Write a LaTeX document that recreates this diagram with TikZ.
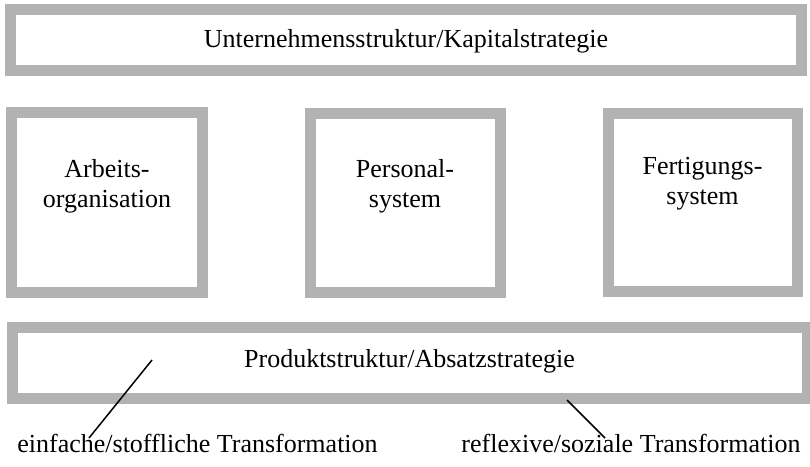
\documentclass[tikz,border=0pt]{standalone}
\usepackage{fontspec}
\setmainfont{Liberation Serif}
\begin{document}
\begin{tikzpicture}[x=1pt,y=-1pt,
  frame/.style={draw=black!30, line width=11pt, fill=white, inner sep=0pt},
  lbl/.style={font=\fontsize{26}{30}\selectfont, align=center, inner sep=0pt},
  conn/.style={line width=1.5pt, black}]
\useasboundingbox (0,0) rectangle (810,466);
% bars
\node[frame, minimum width=791pt, minimum height=60.5pt] (top) at (405.5,39.75) {};
\node[lbl] (toptxt) at (406,41) {Unternehmensstruktur/Kapitalstrategie};
\node[frame, minimum width=795pt, minimum height=71.5pt] (bot) at (409.5,363) {};
\node[lbl] (bottxt) at (409.5,361) {Produktstruktur/Absatzstrategie};
% boxes
\node[frame, minimum width=190.5pt, minimum height=180pt] (arb) at (107,202.5) {};
\node[lbl] (arbtxt) at (107,186) {Arbeits-\\organisation};
\node[frame, minimum width=190pt, minimum height=179pt] (pers) at (405,203) {};
\node[lbl] (perstxt) at (405,186) {Personal-\\system};
\node[frame, minimum width=189pt, minimum height=178pt] (fert) at (702.5,202.5) {};
\node[lbl] (ferttxt) at (702.5,184) {Fertigungs-\\system};
% labels
\node[lbl, anchor=base] (einf) at (197.5,452) {einfache/stoffliche Transformation};
\node[lbl, anchor=base] (refl) at (631,452) {reflexive/soziale Transformation};
\coordinate (l1) at (152,360);
\coordinate (l2) at (89,438);
\coordinate (r1) at (567,400);
\coordinate (r2) at (605,438);
\draw[conn] (l1) -- (l2);
\draw[conn] (r1) -- (r2);
\end{tikzpicture}
\end{document}
